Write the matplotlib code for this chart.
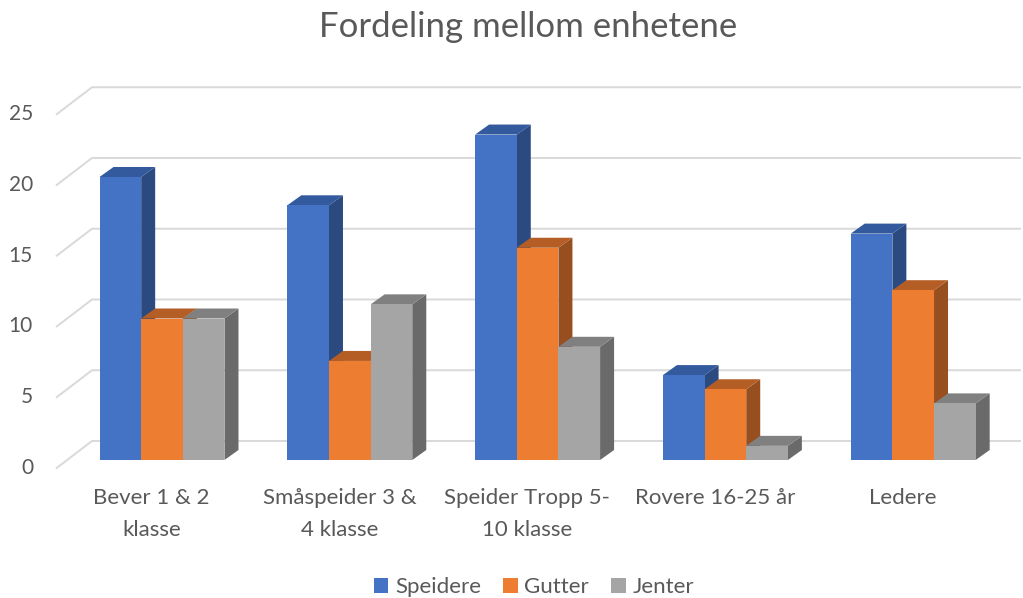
import matplotlib
matplotlib.use("Agg")
import matplotlib.pyplot as plt
from matplotlib.patches import Polygon, Patch
import numpy as np

plt.rcParams['font.family'] = ['Lato', 'DejaVu Sans']

categories = ["Bever 1 & 2\nklasse", "Småspeider 3 &\n4 klasse", "Speider Tropp 5-\n10 klasse",
              "Rovere 16-25 år", "Ledere"]
series = ["Speidere", "Gutter", "Jenter"]
speidere = [20, 18, 23, 6, 16]
gutter = [10, 7, 15, 5, 12]
jenter = [10, 11, 8, 1, 4]
yticks = [0, 5, 10, 15, 20, 25]

front_colors = ["#4472C4", "#ED7D31", "#A5A5A5"]
top_colors = ["#335A9C", "#B45E26", "#808080"]
side_colors = ["#2B4A80", "#984F1F", "#6A6A6A"]
text_col = "#595959"
grid_col = "#D9D9D9"

# pixel geometry of the original (x: px per category, y: px per unit)
W, H = 1023, 598
px_cat = 187.8
px_unit = 14.15
x0_px, y0_px = 162, 460

fig = plt.figure(figsize=(W / 100, H / 100), dpi=100)
ax = fig.add_axes([0, 0, 1, 1])
ax.set_xlim(-x0_px / px_cat, (W - x0_px) / px_cat)
ax.set_ylim(-(H - y0_px) / px_unit, y0_px / px_unit)
ax.axis('off')

# depth offsets
bdx, bdy = 14 / px_cat, 10 / px_unit      # bars
gx_front, gx_back = (56 - x0_px) / px_cat, (92 - x0_px) / px_cat
gx_end = (1021 - x0_px) / px_cat
g_front_off, g_back_off = -0.6, 19 / px_unit

# back wall gridlines with slanted floor/side segment
for v in yticks:
    ax.plot([gx_front, gx_back, gx_end], [v + g_front_off, v + g_back_off, v + g_back_off],
            color=grid_col, lw=1.4, zorder=1, solid_capstyle='butt')
    ax.text((33 - x0_px) / px_cat, v + g_front_off + 0.05, str(v), ha='right', va='center',
            fontsize=15, color=text_col)

w = 0.2218
x = np.arange(len(categories))
values = [speidere, gutter, jenter]
for k, vals in enumerate(values):
    xs = x + (k - 1) * w
    ax.bar(xs, vals, width=w, color=front_colors[k], lw=0, zorder=11 + 2 * k)
    for xc, v in zip(xs, vals):
        l, r = xc - w / 2, xc + w / 2
        top = Polygon([(l, v), (r, v), (r + bdx, v + bdy), (l + bdx, v + bdy)],
                      closed=True, fc=top_colors[k], lw=0, zorder=10 + 2 * k)
        side = Polygon([(r, 0), (r + bdx, bdy), (r + bdx, v + bdy), (r, v)],
                       closed=True, fc=side_colors[k], lw=0, zorder=10 + 2 * k)
        ax.add_patch(side)
        ax.add_patch(top)

for xc, lab in zip(x, categories):
    ax.text(xc - 0.055, -2.0, lab, ha='center', va='top', fontsize=16,
            color=text_col, linespacing=1.75)

fig.text(528 / W, 1 - 27 / H, "Fordeling mellom enhetene", ha='center', va='center',
         fontsize=25, color=text_col)

handles = [Patch(fc=c, lw=0) for c in front_colors]
fig.legend(handles, series, loc='center', bbox_to_anchor=(534 / W, 1 - 587 / H), ncol=3,
           frameon=False, fontsize=16, handlelength=0.65, handleheight=0.65,
           handletextpad=0.3, columnspacing=1.0, labelcolor=text_col)

fig.savefig("out.png", dpi=100)
